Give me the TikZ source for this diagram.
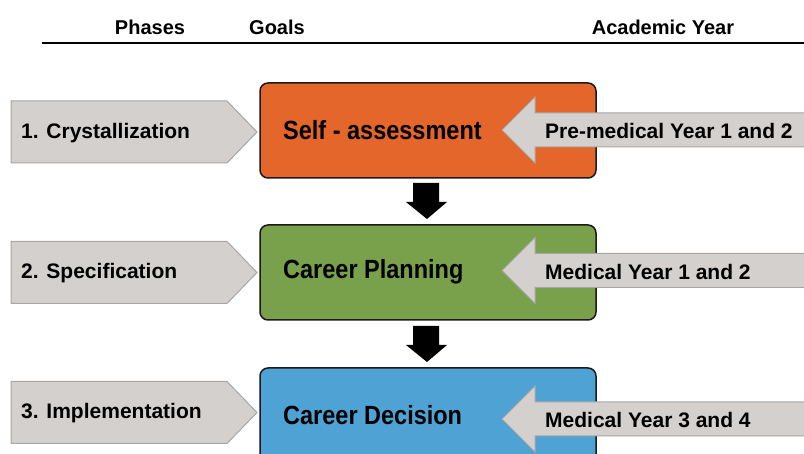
\documentclass[tikz,border=0pt]{standalone}
\usepackage{fontspec}
\setmainfont{Liberation Sans}
\definecolor{pgray}{HTML}{D3D0CD}
\definecolor{pedge}{HTML}{A8A5A2}
\definecolor{orng}{HTML}{E5662B}
\definecolor{grn}{HTML}{79A04B}
\definecolor{blu}{HTML}{4EA3D4}
\definecolor{bedge}{HTML}{1A1A1A}
\newcommand{\tallbox}[1]{\scalebox{1}[1.12]{#1}}
\tikzset{
  hdr/.style={font=\fontsize{20}{24}\selectfont\bfseries, inner sep=0pt},
  lbl/.style={font=\fontsize{21}{25}\selectfont\bfseries, inner sep=0pt, anchor=west},
  boxtxt/.style={font=\fontsize{23.5}{28}\selectfont\bfseries, inner sep=0pt, anchor=west},
  phase/.style={fill=pgray, draw=pedge, line width=1pt},
  goal/.style={draw=bedge, line width=1.5pt, rounded corners=8pt},
  yeararrow/.style={fill=pgray, draw=pedge, line width=1pt},
  downarrow/.style={fill=black, draw=none}
}
\begin{document}
\begin{tikzpicture}[x=1pt,y=-1pt]
\useasboundingbox (0,0) rectangle (804,454);
\clip (0,0) rectangle (804,454);
% header
\node[hdr] (hphase) at (150,27) {Phases};
\node[hdr] (hgoal) at (277,27) {Goals};
\node[hdr] (hyear) at (663,27) {Academic Year};
\coordinate (ruleL) at (42,43);
\coordinate (ruleR) at (806,43);
\draw[line width=2.6pt] (ruleL) -- (ruleR);
% phases
\foreach \c/\t/\n in {132/1. Crystallization/p1, 272.5/2. Specification/p2, 412.5/3. Implementation/p3}{
  \draw[phase] (11,\c-31) -- (227,\c-31) -- (257,\c) -- (227,\c+31) -- (11,\c+31) -- cycle;
  \node[lbl] (\n) at (21,\c+1) {\t};
}
% goal boxes
\draw[goal, fill=orng] (260,83) rectangle (596,178);
\draw[goal, fill=grn] (260,225) rectangle (596,320);
\draw[goal, fill=blu] (260,368) rectangle (596,463);
\node[boxtxt] (g1) at (283,130) {\tallbox{Self - assessment}};
\node[boxtxt] (g2) at (283,272) {\tallbox{Career Planning}};
\node[boxtxt] (g3) at (283,415) {\tallbox{Career Decision}};
% year arrows
\foreach \c/\t/\n in {130/Pre-medical Year 1 and 2/y1, 270.5/Medical Year 1 and 2/y2, 419/Medical Year 3 and 4/y3}{
  \draw[yeararrow] (810,\c-17) -- (535,\c-17) -- (535,\c-33) -- (502,\c) -- (535,\c+33) -- (535,\c+17) -- (810,\c+17);
  \node[lbl] (\n) at (545,\c+1) {\t};
}
% down arrows
\foreach \t in {183,326}{
  \fill[downarrow] (413,\t) -- (439,\t) -- (439,\t+19) -- (447,\t+19) -- (427,\t+36) -- (406,\t+19) -- (413,\t+19) -- cycle;
}
\end{tikzpicture}
\end{document}
